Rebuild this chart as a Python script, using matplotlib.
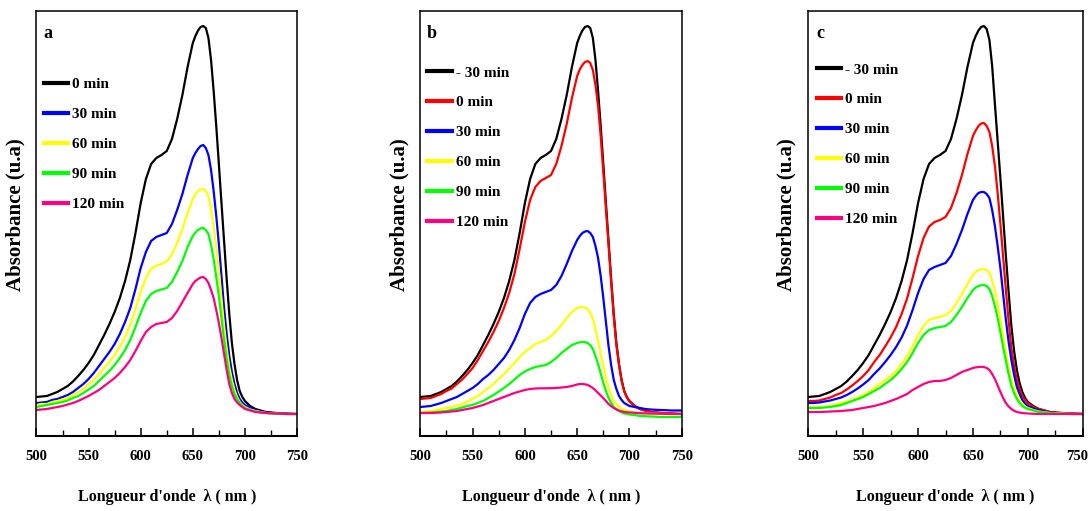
import matplotlib.pyplot as plt
import matplotlib.transforms as mtransforms

plt.rcParams['font.family'] = ['Liberation Serif', 'DejaVu Serif']
plt.rcParams['font.weight'] = 'bold'
plt.rcParams['axes.labelweight'] = 'bold'

# wavelength grid (nm): 5 nm steps, 2.5 nm around the main band
wl = [500, 505, 510, 515, 520, 525, 530, 535, 540, 545,
      550, 555, 560, 565, 570, 575, 580, 585, 590, 595,
      600, 605, 610, 615, 620, 625, 630, 635, 640, 645,
      650, 652.5, 655, 657.5, 660, 662.5, 665, 667.5, 670, 672.5,
      675, 677.5, 680, 682.5, 685, 687.5, 690, 692.5, 695, 697.5,
      700, 705, 710, 715, 720, 725, 730, 735, 740, 745, 750]

# --- panel a ---
labels_a = ['0 min', '30 min', '60 min', '90 min', '120 min']
a_0 = [0.39, 0.395, 0.40, 0.42, 0.44, 0.47, 0.50, 0.545, 0.60, 0.66,
       0.73, 0.81, 0.91, 1.01, 1.12, 1.24, 1.38, 1.55, 1.76, 2.03,
       2.33, 2.57, 2.72, 2.78, 2.81, 2.85, 2.97, 3.17, 3.41, 3.69,
       3.93, 4.00, 4.055, 4.09, 4.10, 4.08, 3.98, 3.76, 3.45, 3.10,
       2.72, 2.33, 1.95, 1.57, 1.22, 0.93, 0.72, 0.56, 0.45, 0.39,
       0.35, 0.30, 0.27, 0.255, 0.24, 0.235, 0.23, 0.228, 0.225, 0.222, 0.22]
a_30 = [0.33, 0.335, 0.34, 0.36, 0.37, 0.39, 0.41, 0.44, 0.48, 0.52,
        0.57, 0.63, 0.70, 0.77, 0.84, 0.92, 1.02, 1.14, 1.28, 1.47,
        1.68, 1.84, 1.95, 1.99, 2.01, 2.03, 2.12, 2.26, 2.42, 2.61,
        2.78, 2.83, 2.87, 2.90, 2.91, 2.88, 2.81, 2.66, 2.45, 2.20,
        1.92, 1.60, 1.28, 1.02, 0.80, 0.64, 0.52, 0.43, 0.37, 0.335,
        0.31, 0.28, 0.26, 0.245, 0.235, 0.23, 0.225, 0.223, 0.22, 0.22, 0.22]
a_60 = [0.31, 0.32, 0.32, 0.34, 0.35, 0.365, 0.38, 0.41, 0.44, 0.475,
        0.52, 0.56, 0.62, 0.68, 0.74, 0.81, 0.89, 0.99, 1.11, 1.27,
        1.44, 1.58, 1.67, 1.705, 1.72, 1.745, 1.815, 1.93, 2.07, 2.23,
        2.37, 2.42, 2.45, 2.465, 2.47, 2.45, 2.40, 2.27, 2.10, 1.89,
        1.65, 1.37, 1.10, 0.87, 0.69, 0.56, 0.46, 0.39, 0.34, 0.31,
        0.29, 0.265, 0.25, 0.24, 0.23, 0.227, 0.225, 0.222, 0.22, 0.22, 0.22]
a_90 = [0.29, 0.30, 0.31, 0.32, 0.33, 0.34, 0.355, 0.38, 0.40, 0.43,
        0.465, 0.50, 0.55, 0.60, 0.65, 0.71, 0.78, 0.86, 0.96, 1.09,
        1.23, 1.35, 1.42, 1.45, 1.465, 1.48, 1.54, 1.64, 1.75, 1.89,
        2.00, 2.035, 2.06, 2.075, 2.08, 2.06, 2.02, 1.91, 1.77, 1.59,
        1.40, 1.18, 0.96, 0.77, 0.61, 0.50, 0.42, 0.37, 0.33, 0.30,
        0.28, 0.26, 0.245, 0.235, 0.23, 0.225, 0.222, 0.22, 0.22, 0.22, 0.22]
a_120 = [0.26, 0.265, 0.27, 0.28, 0.29, 0.30, 0.315, 0.33, 0.35, 0.375,
         0.40, 0.43, 0.46, 0.50, 0.54, 0.58, 0.63, 0.69, 0.76, 0.85,
         0.95, 1.04, 1.09, 1.12, 1.13, 1.14, 1.18, 1.25, 1.34, 1.43,
         1.52, 1.55, 1.57, 1.585, 1.59, 1.57, 1.53, 1.46, 1.38, 1.26,
         1.13, 0.98, 0.82, 0.66, 0.52, 0.43, 0.37, 0.335, 0.31, 0.29,
         0.27, 0.255, 0.24, 0.235, 0.23, 0.227, 0.225, 0.222, 0.22, 0.22, 0.22]

# --- panel b ---
labels_b = ['- 30 min', '0 min', '30 min', '60 min', '90 min', '120 min']
b_m30 = [0.39, 0.395, 0.40, 0.42, 0.44, 0.47, 0.50, 0.545, 0.60, 0.66,
         0.73, 0.81, 0.91, 1.01, 1.12, 1.24, 1.38, 1.55, 1.76, 2.03,
         2.33, 2.57, 2.72, 2.78, 2.81, 2.85, 2.97, 3.17, 3.41, 3.69,
         3.93, 4.00, 4.055, 4.09, 4.10, 4.08, 3.98, 3.76, 3.45, 3.10,
         2.72, 2.33, 1.95, 1.57, 1.22, 0.93, 0.72, 0.56, 0.45, 0.39,
         0.35, 0.30, 0.27, 0.255, 0.24, 0.235, 0.23, 0.228, 0.225, 0.222, 0.22]
b_0 = [0.37, 0.375, 0.38, 0.40, 0.42, 0.45, 0.475, 0.52, 0.565, 0.62,
       0.68, 0.76, 0.85, 0.94, 1.04, 1.15, 1.28, 1.43, 1.62, 1.87,
       2.14, 2.36, 2.49, 2.55, 2.58, 2.61, 2.72, 2.90, 3.12, 3.38,
       3.60, 3.665, 3.71, 3.74, 3.75, 3.73, 3.66, 3.51, 3.30, 3.00,
       2.64, 2.27, 1.91, 1.54, 1.19, 0.91, 0.71, 0.55, 0.445, 0.385,
       0.345, 0.30, 0.27, 0.255, 0.24, 0.235, 0.23, 0.228, 0.225, 0.222, 0.22]
b_30 = [0.29, 0.295, 0.30, 0.315, 0.33, 0.35, 0.37, 0.39, 0.42, 0.45,
        0.48, 0.52, 0.57, 0.61, 0.66, 0.72, 0.78, 0.86, 0.96, 1.08,
        1.22, 1.33, 1.39, 1.42, 1.44, 1.46, 1.51, 1.60, 1.72, 1.85,
        1.96, 2.00, 2.03, 2.045, 2.05, 2.03, 1.99, 1.90, 1.78, 1.60,
        1.38, 1.14, 0.90, 0.71, 0.56, 0.47, 0.40, 0.36, 0.33, 0.315,
        0.30, 0.29, 0.28, 0.27, 0.265, 0.262, 0.26, 0.258, 0.255, 0.255, 0.255]
b_60 = [0.24, 0.245, 0.25, 0.26, 0.27, 0.28, 0.29, 0.305, 0.32, 0.345,
        0.37, 0.40, 0.44, 0.48, 0.52, 0.57, 0.62, 0.675, 0.73, 0.79,
        0.84, 0.88, 0.92, 0.94, 0.96, 1.00, 1.05, 1.11, 1.18, 1.24,
        1.28, 1.288, 1.29, 1.285, 1.27, 1.235, 1.17, 1.07, 0.95, 0.82,
        0.70, 0.58, 0.48, 0.41, 0.35, 0.315, 0.29, 0.273, 0.26, 0.252,
        0.245, 0.237, 0.23, 0.227, 0.225, 0.223, 0.22, 0.22, 0.22, 0.22, 0.22]
b_90 = [0.23, 0.232, 0.235, 0.24, 0.245, 0.25, 0.26, 0.27, 0.285, 0.30,
        0.31, 0.33, 0.35, 0.38, 0.41, 0.445, 0.48, 0.52, 0.565, 0.61,
        0.645, 0.67, 0.69, 0.70, 0.71, 0.74, 0.78, 0.83, 0.87, 0.91,
        0.93, 0.937, 0.94, 0.938, 0.93, 0.908, 0.87, 0.80, 0.72, 0.625,
        0.53, 0.45, 0.38, 0.33, 0.29, 0.265, 0.25, 0.235, 0.225, 0.22,
        0.215, 0.21, 0.20, 0.198, 0.195, 0.193, 0.19, 0.19, 0.19, 0.19, 0.19]
b_120 = [0.23, 0.23, 0.23, 0.232, 0.235, 0.24, 0.245, 0.25, 0.26, 0.27,
         0.28, 0.295, 0.31, 0.33, 0.35, 0.37, 0.39, 0.41, 0.43, 0.445,
         0.46, 0.47, 0.475, 0.477, 0.477, 0.478, 0.48, 0.485, 0.49, 0.50,
         0.515, 0.519, 0.52, 0.517, 0.51, 0.497, 0.48, 0.457, 0.43, 0.405,
         0.38, 0.35, 0.32, 0.298, 0.28, 0.266, 0.255, 0.247, 0.24, 0.237,
         0.235, 0.232, 0.228, 0.226, 0.225, 0.224, 0.222, 0.221, 0.22, 0.22, 0.22]

# --- panel c ---
labels_c = ['- 30 min', '0 min', '30 min', '60 min', '90 min', '120 min']
c_m30 = [0.39, 0.395, 0.40, 0.42, 0.44, 0.47, 0.50, 0.545, 0.60, 0.66,
         0.73, 0.81, 0.91, 1.01, 1.12, 1.24, 1.38, 1.55, 1.76, 2.03,
         2.33, 2.57, 2.72, 2.78, 2.81, 2.85, 2.97, 3.17, 3.41, 3.69,
         3.93, 4.00, 4.055, 4.09, 4.10, 4.07, 3.96, 3.70, 3.32, 2.95,
         2.58, 2.19, 1.80, 1.44, 1.10, 0.85, 0.66, 0.53, 0.44, 0.38,
         0.34, 0.30, 0.27, 0.255, 0.24, 0.235, 0.23, 0.228, 0.225, 0.222, 0.22]
c_0 = [0.35, 0.35, 0.355, 0.37, 0.385, 0.41, 0.43, 0.465, 0.505, 0.55,
       0.60, 0.66, 0.74, 0.81, 0.895, 0.985, 1.09, 1.22, 1.375, 1.58,
       1.80, 1.98, 2.095, 2.14, 2.16, 2.19, 2.28, 2.43, 2.61, 2.82,
       3.00, 3.055, 3.10, 3.125, 3.13, 3.10, 3.04, 2.90, 2.70, 2.43,
       2.12, 1.79, 1.46, 1.15, 0.88, 0.70, 0.56, 0.47, 0.40, 0.36,
       0.33, 0.29, 0.27, 0.255, 0.24, 0.235, 0.23, 0.228, 0.225, 0.222, 0.22]
c_30 = [0.33, 0.33, 0.335, 0.345, 0.355, 0.37, 0.385, 0.41, 0.44, 0.475,
        0.515, 0.56, 0.62, 0.675, 0.74, 0.81, 0.89, 0.985, 1.105, 1.26,
        1.43, 1.57, 1.66, 1.69, 1.71, 1.73, 1.80, 1.92, 2.06, 2.22,
        2.36, 2.40, 2.43, 2.44, 2.44, 2.42, 2.38, 2.26, 2.10, 1.90,
        1.68, 1.42, 1.16, 0.94, 0.76, 0.61, 0.49, 0.42, 0.36, 0.325,
        0.30, 0.275, 0.26, 0.245, 0.235, 0.23, 0.225, 0.222, 0.22, 0.22, 0.22]
c_60 = [0.29, 0.29, 0.29, 0.295, 0.30, 0.315, 0.33, 0.345, 0.36, 0.385,
        0.41, 0.44, 0.48, 0.52, 0.56, 0.60, 0.65, 0.72, 0.80, 0.90,
        1.01, 1.10, 1.16, 1.18, 1.19, 1.21, 1.25, 1.33, 1.42, 1.52,
        1.61, 1.64, 1.66, 1.668, 1.67, 1.66, 1.63, 1.55, 1.45, 1.32,
        1.17, 1.00, 0.84, 0.69, 0.57, 0.48, 0.41, 0.36, 0.32, 0.295,
        0.28, 0.26, 0.245, 0.237, 0.23, 0.227, 0.225, 0.222, 0.22, 0.22, 0.22]
c_90 = [0.28, 0.28, 0.28, 0.285, 0.29, 0.30, 0.31, 0.33, 0.35, 0.37,
        0.39, 0.42, 0.45, 0.48, 0.52, 0.56, 0.61, 0.67, 0.74, 0.83,
        0.93, 1.01, 1.06, 1.08, 1.09, 1.10, 1.14, 1.21, 1.29, 1.38,
        1.46, 1.485, 1.50, 1.508, 1.51, 1.50, 1.47, 1.40, 1.30, 1.18,
        1.04, 0.89, 0.75, 0.62, 0.50, 0.43, 0.37, 0.33, 0.30, 0.283,
        0.27, 0.255, 0.24, 0.235, 0.23, 0.227, 0.225, 0.222, 0.22, 0.22, 0.22]
c_120 = [0.24, 0.24, 0.24, 0.242, 0.245, 0.247, 0.25, 0.255, 0.26, 0.27,
         0.28, 0.29, 0.30, 0.315, 0.33, 0.35, 0.37, 0.395, 0.42, 0.46,
         0.49, 0.52, 0.54, 0.55, 0.55, 0.56, 0.58, 0.61, 0.64, 0.66,
         0.68, 0.686, 0.69, 0.692, 0.69, 0.68, 0.66, 0.62, 0.57, 0.505,
         0.44, 0.38, 0.33, 0.295, 0.27, 0.252, 0.24, 0.234, 0.23, 0.227,
         0.225, 0.222, 0.22, 0.22, 0.22, 0.22, 0.22, 0.22, 0.22, 0.22, 0.22]

pink = '#ff0080'
colors5 = ['black', 'blue', '#ffff00', '#00ff00', pink]
colors6 = ['black', 'red', 'blue', '#ffff00', '#00ff00', pink]

panels = [
    ('a', [a_0, a_30, a_60, a_90, a_120], labels_a, colors5),
    ('b', [b_m30, b_0, b_30, b_60, b_90, b_120], labels_b, colors6),
    ('c', [c_m30, c_0, c_30, c_60, c_90, c_120], labels_c, colors6),
]

# axes rectangles in figure fractions
rects = [
    [0.0334, 0.1468, 0.2386, 0.8317],
    [0.3849, 0.1468, 0.2394, 0.8317],
    [0.7402, 0.1468, 0.2513, 0.8317],
]
legend_anchor = [(0.029, 0.843), (0.027, 0.871), (0.031, 0.878)]

fig = plt.figure(figsize=(10.92, 5.11), dpi=100)

for (letter, series, labels, colors), rect, anchor in zip(panels, rects, legend_anchor):
    ax = fig.add_axes(rect)
    for y, lab, col in zip(series, labels, colors):
        ax.plot(wl, y, color=col, lw=1.6, label=lab, solid_joinstyle='round')

    ax.set_xlim(500, 750)
    ax.set_ylim(0, 4.25)
    ax.set_yticks([])
    ax.set_xticks(range(500, 751, 50))
    ax.set_xticks(range(525, 750, 50), minor=True)
    ax.tick_params(axis='x', which='major', direction='in', length=6, width=1.1,
                   labelsize=10.5, pad=10)
    ax.tick_params(axis='x', which='minor', direction='in', length=4, width=1.0)
    for side in ['top', 'right', 'left']:
        ax.spines[side].set_linewidth(1.1)
    ax.spines['bottom'].set_linewidth(1.5)

    ax.set_xlabel("Longueur d'onde  λ ( nm )", fontsize=11.5)
    ax.xaxis.set_label_coords(0.5, -0.125)
    ax.set_ylabel('Absorbance (u.a)', fontsize=15, va='center')
    ax.yaxis.set_label_coords(-0.079, 0.52)

    ax.text(0.043, 0.948, letter, transform=ax.transAxes, fontsize=13,
            ha='center', va='center')

    leg = ax.legend(loc='upper left', bbox_to_anchor=anchor, frameon=False,
                    fontsize=11, handlelength=1.6, handletextpad=0.25,
                    labelspacing=1.06, borderpad=0, borderaxespad=0)
    for line in leg.get_lines():
        line.set_linewidth(3)

    # keep the last tick label of the right-hand panel inside the figure
    if letter == 'c':
        last = ax.get_xticklabels()[-1]
        shift = mtransforms.ScaledTranslation(-4 / 72, 0, fig.dpi_scale_trans)
        last.set_transform(last.get_transform() + shift)

fig.savefig('out.png', dpi=100)
